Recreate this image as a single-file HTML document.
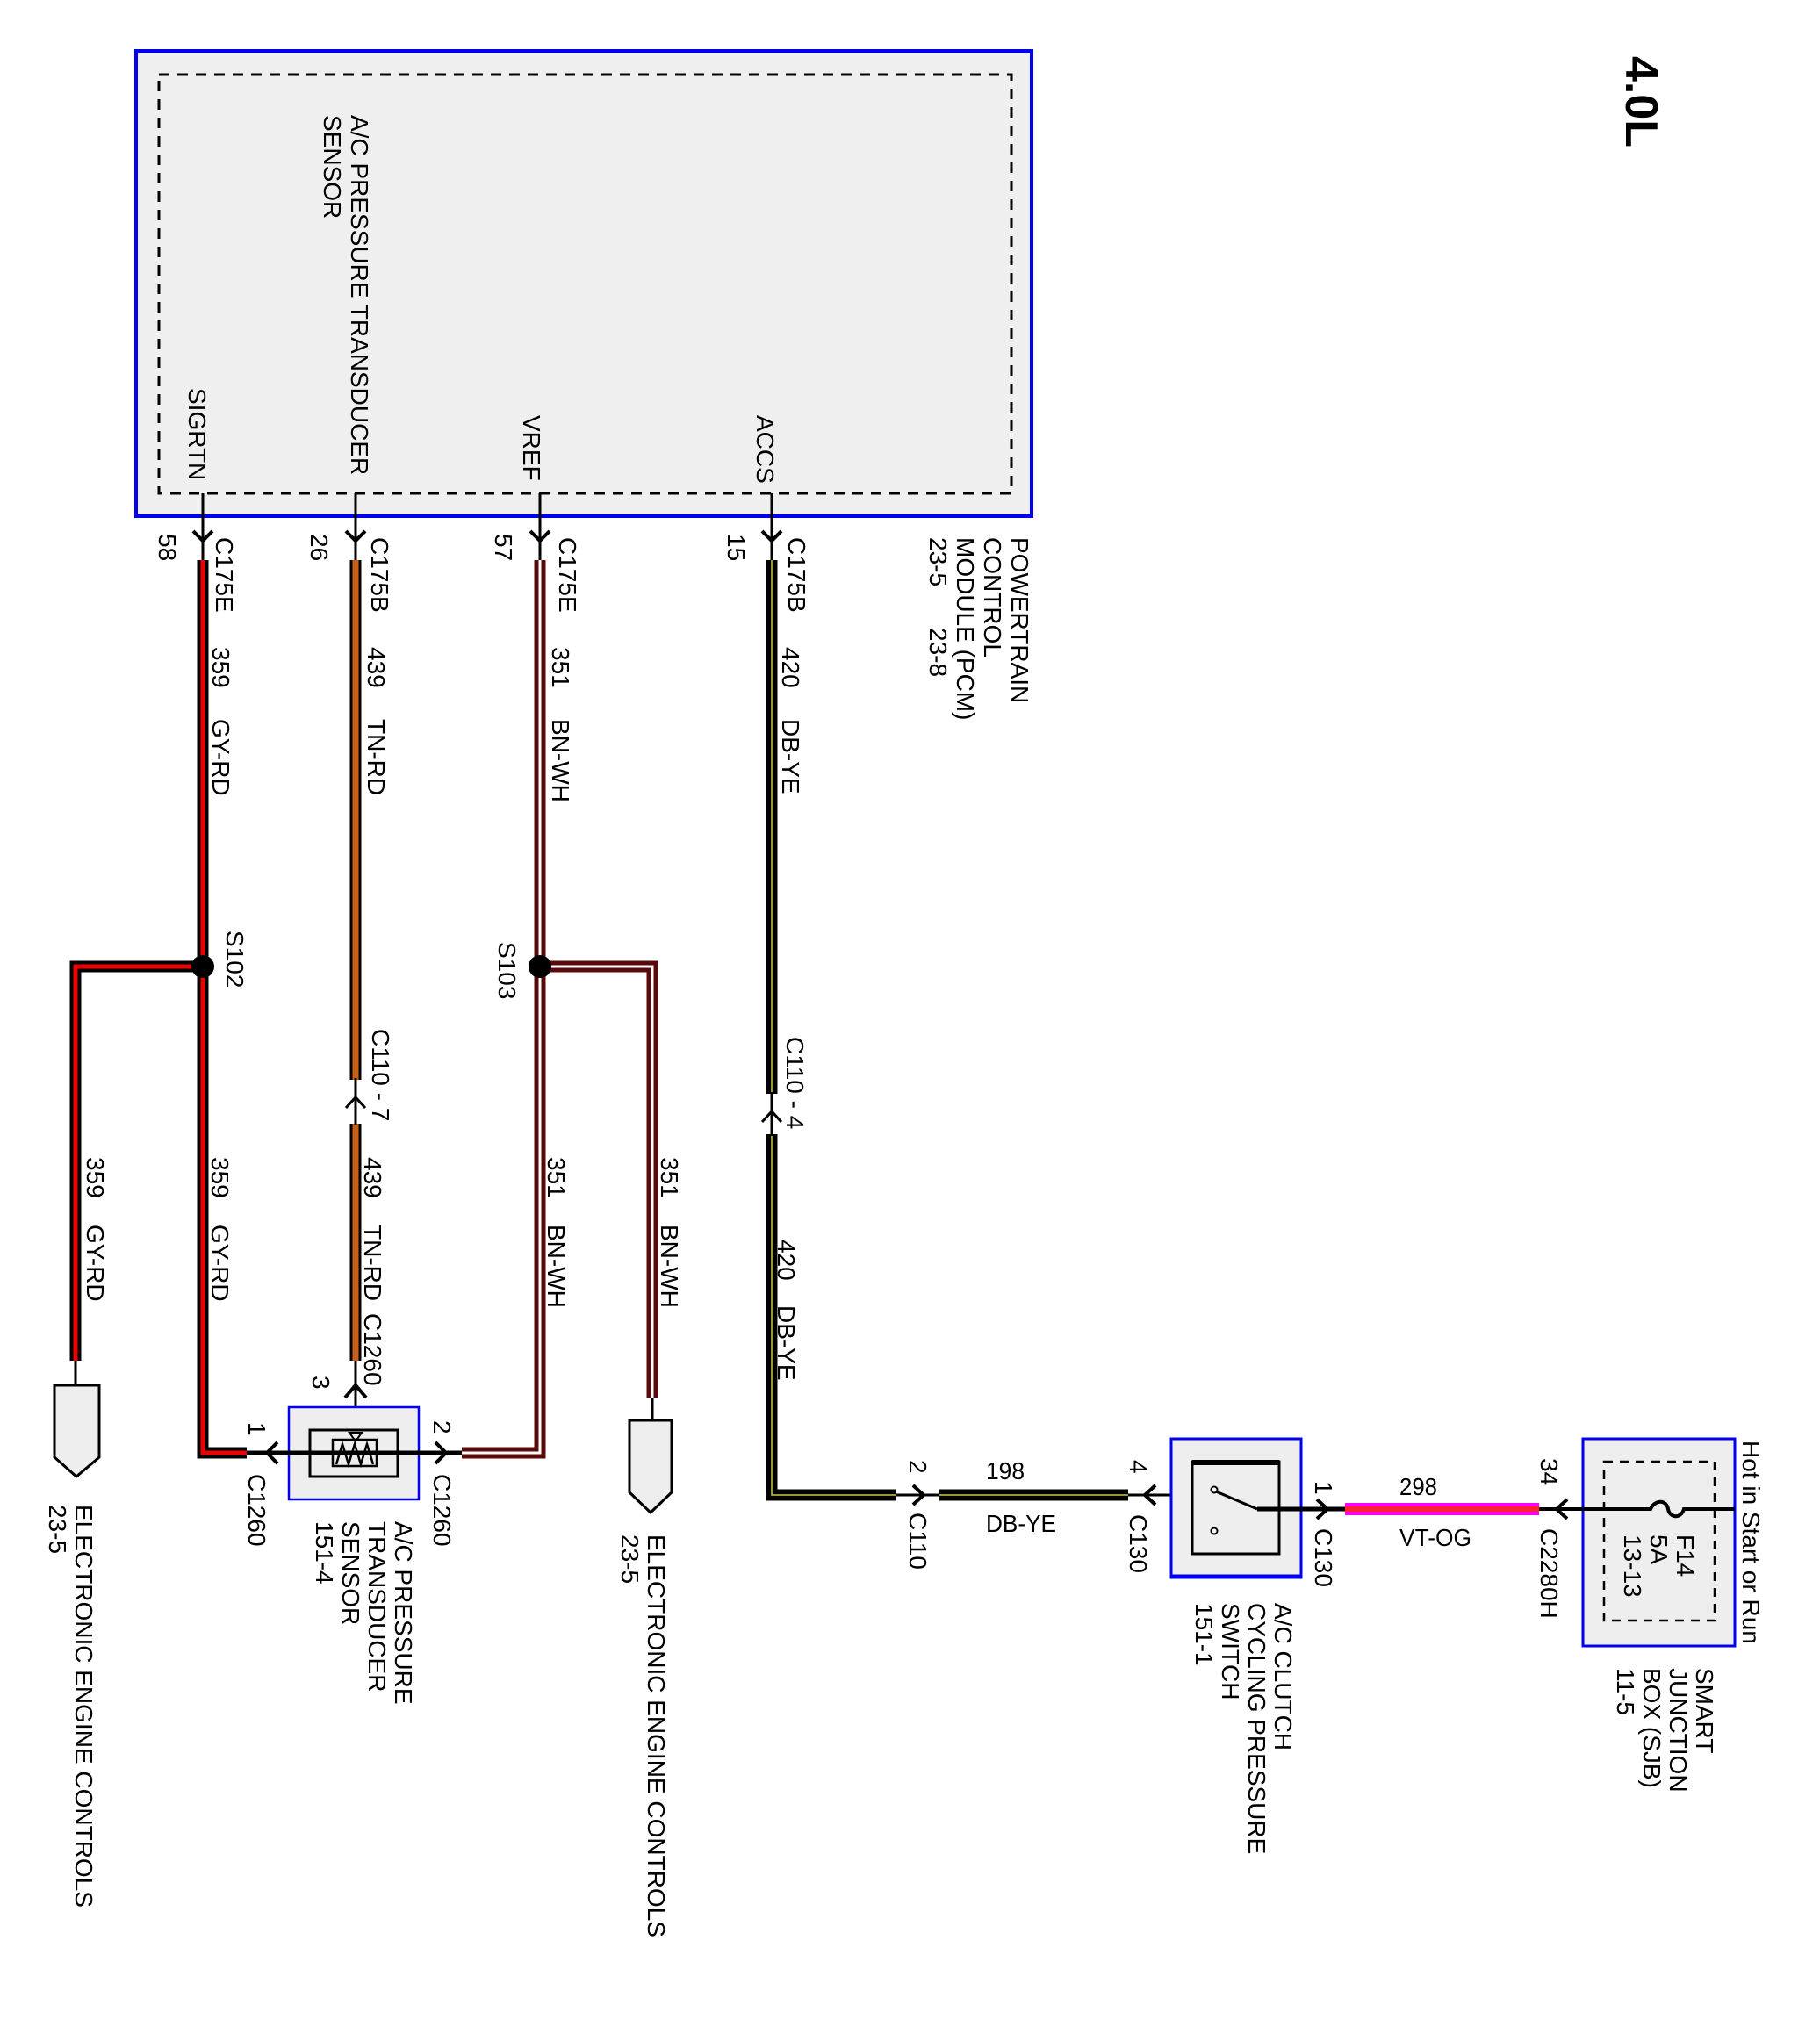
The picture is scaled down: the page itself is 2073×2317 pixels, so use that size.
<!DOCTYPE html>
<html><head><meta charset="utf-8"><style>html,body{margin:0;padding:0;background:#fff}svg{display:block}text{font-family:"Liberation Sans",sans-serif;font-size:28px;fill:#000}</style></head><body>
<svg width="2073" height="2317" viewBox="0 0 2073 2317" xmlns="http://www.w3.org/2000/svg">
<defs>
<g id="arrD"><path d="M-11,-9 L0,2 L11,-9" fill="none" stroke="#000" stroke-width="4"/></g>
</defs>
<rect x="155" y="58" width="1020" height="530" fill="#efefef" stroke="#0000ee" stroke-width="4"/>
<rect x="181" y="85" width="971" height="477" fill="none" stroke="#000" stroke-width="3" stroke-dasharray="12,9"/>
<g stroke="#000" stroke-width="3">
<line x1="231" y1="562" x2="231" y2="640"/><line x1="405" y1="562" x2="405" y2="640"/>
<line x1="615" y1="562" x2="615" y2="640"/><line x1="879" y1="562" x2="879" y2="640"/>
</g>
<use href="#arrD" x="231" y="614"/><use href="#arrD" x="405" y="614"/><use href="#arrD" x="615" y="614"/><use href="#arrD" x="879" y="614"/>
<g fill="none" stroke-linejoin="miter">
<path d="M231,638 V1655 H281" stroke="#000" stroke-width="13"/>
<path d="M231,638 V1655 H281" stroke="#e00" stroke-width="5"/>
<path d="M231,1101 H86 V1550" stroke="#000" stroke-width="13"/>
<path d="M231,1101 H86 V1550" stroke="#e00" stroke-width="5"/>
<path d="M405,638 V1230" stroke="#000" stroke-width="13"/><path d="M405,638 V1230" stroke="#c8601a" stroke-width="7"/>
<path d="M405,1280 V1550" stroke="#000" stroke-width="13"/><path d="M405,1280 V1550" stroke="#c8601a" stroke-width="7"/>
<path d="M615,638 V1655 H526" stroke="#5a0a0a" stroke-width="13"/><path d="M615,638 V1655 H526" stroke="#fff" stroke-width="3"/>
<path d="M615,1101 H743 V1592" stroke="#5a0a0a" stroke-width="13"/><path d="M615,1101 H743 V1592" stroke="#fff" stroke-width="3"/>
<path d="M879,638 V1246" stroke="#000" stroke-width="13"/><path d="M879,638 V1246" stroke="#cc4" stroke-width="1.5"/>
<path d="M879,1292 V1703 H1021" stroke="#000" stroke-width="13"/><path d="M879,1292 V1703 H1021" stroke="#cc4" stroke-width="1.5"/>
<path d="M1070,1703 H1285" stroke="#000" stroke-width="13"/><path d="M1070,1703 H1285" stroke="#cc4" stroke-width="1.5"/>
<path d="M1532,1719 H1753" stroke="#f0f" stroke-width="14"/><path d="M1532,1719 H1753" stroke="#f23" stroke-width="6"/>
</g>
<circle cx="231" cy="1101" r="13" fill="#000"/><circle cx="615" cy="1101" r="13" fill="#000"/>
<g stroke="#000" stroke-width="3" fill="none">
<line x1="405" y1="1228" x2="405" y2="1282"/><path d="M394,1262 L405,1250 L416,1262"/>
<line x1="879" y1="1244" x2="879" y2="1294"/><path d="M868,1278 L879,1266 L890,1278"/>
<line x1="405" y1="1550" x2="405" y2="1640"/><path d="M393,1592 L405,1578 L417,1592" stroke-width="4"/>
<line x1="86" y1="1550" x2="86" y2="1578"/><line x1="743" y1="1592" x2="743" y2="1618"/>
</g>
<path d="M62,1578 H113 V1660 L87,1682 L62,1660 Z" fill="#eee" stroke="#000" stroke-width="3"/>
<path d="M717,1618 H765 V1700 L741,1723 L717,1700 Z" fill="#eee" stroke="#000" stroke-width="3"/>
<rect x="329" y="1603" width="148" height="105" fill="#eee" stroke="#0000ee" stroke-width="2.5"/>
<rect x="353" y="1629" width="100" height="53" fill="none" stroke="#000" stroke-width="3"/>
<rect x="379" y="1640" width="50" height="30" fill="none" stroke="#000" stroke-width="2.5"/>
<path d="M383,1668 L390,1645 L397,1668 L404,1645 L411,1668 L418,1645 L425,1668" fill="none" stroke="#000" stroke-width="2.5"/>
<path d="M398,1632 L405,1642 L412,1632 Z" fill="none" stroke="#000" stroke-width="2"/>
<line x1="281" y1="1655" x2="526" y2="1655" stroke="#000" stroke-width="5"/>
<path d="M316,1643 L304,1655 L316,1667" fill="none" stroke="#000" stroke-width="4"/>
<path d="M496,1643 L508,1655 L496,1667" fill="none" stroke="#000" stroke-width="4"/>
<line x1="1021" y1="1703" x2="1070" y2="1703" stroke="#000" stroke-width="3"/>
<path d="M1040,1692 L1052,1703 L1040,1714" fill="none" stroke="#000" stroke-width="4"/>
<line x1="1285" y1="1703" x2="1382" y2="1703" stroke="#000" stroke-width="3"/>
<path d="M1316,1692 L1304,1703 L1316,1714" fill="none" stroke="#000" stroke-width="4"/>
<rect x="1334" y="1639" width="148" height="158" fill="#eee" stroke="#0000ee" stroke-width="3"/>
<line x1="1334" y1="1796" x2="1482" y2="1796" stroke="#0000ee" stroke-width="5"/>
<rect x="1358" y="1665" width="99" height="105" fill="none" stroke="#000" stroke-width="3"/>
<line x1="1358" y1="1666" x2="1457" y2="1666" stroke="#000" stroke-width="6"/>
<circle cx="1383" cy="1697" r="3.5" fill="#fff" stroke="#000" stroke-width="2"/>
<line x1="1385" y1="1699" x2="1432" y2="1719" stroke="#000" stroke-width="3"/>
<circle cx="1383" cy="1744" r="3.5" fill="#fff" stroke="#000" stroke-width="2"/>
<line x1="1432" y1="1719" x2="1532" y2="1719" stroke="#000" stroke-width="5"/>
<path d="M1500,1708 L1512,1719 L1500,1730" fill="none" stroke="#000" stroke-width="4"/>
<rect x="1803" y="1639" width="173" height="236" fill="#eee" stroke="#0000ee" stroke-width="3"/>
<rect x="1827" y="1665" width="126" height="181" fill="none" stroke="#000" stroke-width="2.5" stroke-dasharray="10,8"/>
<path d="M1753,1719 H1880 C1885,1708 1898,1708 1900,1719 C1902,1730 1915,1730 1918,1719 H1976" fill="none" stroke="#000" stroke-width="4"/>
<path d="M1785,1708 L1773,1719 L1785,1730" fill="none" stroke="#000" stroke-width="4"/>
<g>
<text transform="translate(1852,64) rotate(90)" style="font-size:52px;font-weight:bold">4.0L</text>
<text transform="translate(215,442) rotate(90)">SIGRTN</text>
<text transform="translate(400,131) rotate(90)">A/C PRESSURE TRANSDUCER<tspan x="0" dy="31">SENSOR</tspan></text>
<text transform="translate(596,473) rotate(90)">VREF</text>
<text transform="translate(862,473) rotate(90)">ACCS</text>
<text transform="translate(181,608) rotate(90)">58</text>
<text transform="translate(246,612) rotate(90)">C175E</text>
<text transform="translate(242,737) rotate(90)">359<tspan x="82">GY-RD</tspan></text>
<text transform="translate(354,608) rotate(90)">26</text>
<text transform="translate(423,612) rotate(90)">C175B</text>
<text transform="translate(419,737) rotate(90)">439<tspan x="82">TN-RD</tspan></text>
<text transform="translate(564,608) rotate(90)">57</text>
<text transform="translate(637,612) rotate(90)">C175E</text>
<text transform="translate(629,737) rotate(90)">351<tspan x="82">BN-WH</tspan></text>
<text transform="translate(829,608) rotate(90)">15</text>
<text transform="translate(898,612) rotate(90)">C175B</text>
<text transform="translate(891,737) rotate(90)">420<tspan x="82">DB-YE</tspan></text>
<text transform="translate(1152,612) rotate(90)">POWERTRAIN<tspan x="0" dy="31">CONTROL</tspan><tspan x="0" dy="31">MODULE (PCM)</tspan><tspan x="0" dy="31">23-5</tspan><tspan x="103">23-8</tspan></text>
<text transform="translate(258,1060) rotate(90)">S102</text>
<text transform="translate(568,1073) rotate(90)">S103</text>
<text transform="translate(424,1172) rotate(90)">C110 - 7</text>
<text transform="translate(896,1181) rotate(90)">C110  -  4</text>
<text transform="translate(99,1318) rotate(90)">359<tspan x="77">GY-RD</tspan></text>
<text transform="translate(241,1318) rotate(90)">359<tspan x="77">GY-RD</tspan></text>
<text transform="translate(415,1318) rotate(90)">439<tspan x="77">TN-RD</tspan><tspan x="178">C1260</tspan></text>
<text transform="translate(624,1318) rotate(90)">351<tspan x="77">BN-WH</tspan></text>
<text transform="translate(753,1318) rotate(90)">351<tspan x="77">BN-WH</tspan></text>
<text transform="translate(886,1412) rotate(90)">420<tspan x="75">DB-YE</tspan></text>
<text transform="translate(356,1567) rotate(90)">3</text>
<text transform="translate(283,1620) rotate(90)">1</text>
<text transform="translate(283,1679) rotate(90)">C1260</text>
<text transform="translate(494,1618) rotate(90)">2</text>
<text transform="translate(494,1679) rotate(90)">C1260</text>
<text transform="translate(450,1733) rotate(90)">A/C PRESSURE<tspan x="0" dy="30">TRANSDUCER</tspan><tspan x="0" dy="30">SENSOR</tspan><tspan x="0" dy="30">151-4</tspan></text>
<text transform="translate(86,1714) rotate(90)">ELECTRONIC ENGINE CONTROLS<tspan x="0" dy="30">23-5</tspan></text>
<text transform="translate(738,1748) rotate(90)">ELECTRONIC ENGINE CONTROLS<tspan x="0" dy="30">23-5</tspan></text>
<text transform="translate(1036,1663) rotate(90)">2</text>
<text transform="translate(1036,1723) rotate(90)">C110</text>
<text transform="translate(1287,1663) rotate(90)">4</text>
<text transform="translate(1287,1725) rotate(90)">C130</text>
<text transform="translate(1498,1687) rotate(90)">1</text>
<text transform="translate(1498,1741) rotate(90)">C130</text>
<text transform="translate(1755,1661) rotate(90)">34</text>
<text transform="translate(1755,1741) rotate(90)">C2280H</text>
<text transform="translate(1910,1748) rotate(90)">F14<tspan x="0" dy="30">5A</tspan><tspan x="0" dy="30">13-13</tspan></text>
<text transform="translate(1985,1641) rotate(90)">Hot in Start or Run</text>
<text transform="translate(1452,1826) rotate(90)">A/C CLUTCH<tspan x="0" dy="30">CYCLING PRESSURE</tspan><tspan x="0" dy="30">SWITCH</tspan><tspan x="0" dy="30">151-1</tspan></text>
<text transform="translate(1932,1900) rotate(90)">SMART<tspan x="0" dy="30">JUNCTION</tspan><tspan x="0" dy="30">BOX (SJB)</tspan><tspan x="0" dy="30">11-5</tspan></text>
</g>
<text x="1123" y="1685" textLength="44" lengthAdjust="spacingAndGlyphs">198</text>
<text x="1123" y="1745" textLength="80" lengthAdjust="spacingAndGlyphs">DB-YE</text>
<text x="1594" y="1703" textLength="43" lengthAdjust="spacingAndGlyphs">298</text>
<text x="1594" y="1761" textLength="82" lengthAdjust="spacingAndGlyphs">VT-OG</text>
</svg>
</body></html>
